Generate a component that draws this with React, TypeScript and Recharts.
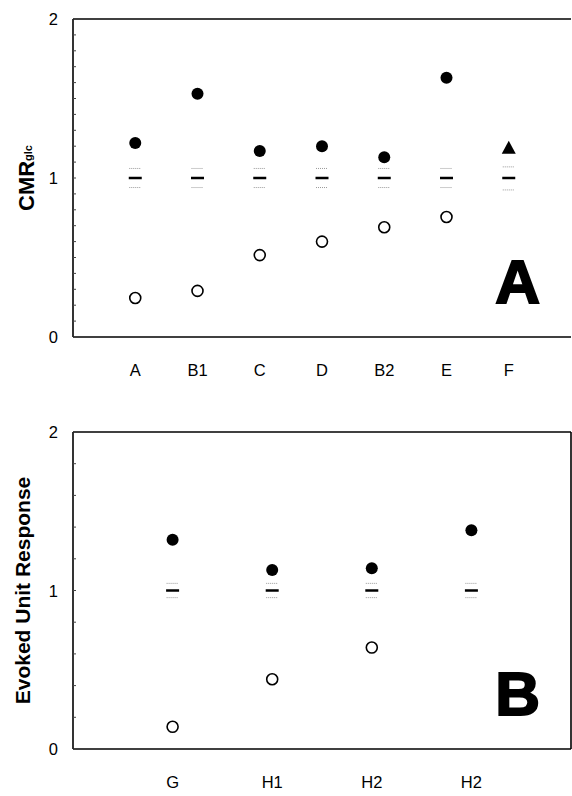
import React from 'react';
import { ScatterChart, Scatter, XAxis, YAxis, ReferenceLine } from 'recharts';

// ---- Panel A data ----
const catsA = ['A', 'B1', 'C', 'D', 'B2', 'E', 'F'];
const posA = [1, 2, 3, 4, 5, 6, 7];
const filledA = [1.22, 1.53, 1.17, 1.2, 1.13, 1.63];
const triangleA = [{ x: 7, y: 1.19 }];
const openA = [0.245, 0.29, 0.515, 0.6, 0.69, 0.755];
const meanA = [1, 1, 1, 1, 1, 1, 1];
const upperA = [1.06, 1.06, 1.06, 1.06, 1.06, 1.06, 1.07];
const lowerA = [0.94, 0.94, 0.94, 0.94, 0.94, 0.94, 0.925];
const yTicksA = [0, 0.1, 0.2, 0.3, 0.4, 0.5, 0.6, 0.7, 0.8, 0.9, 1, 1.1, 1.2, 1.3, 1.4, 1.5, 1.6, 1.7, 1.8, 1.9, 2];

// ---- Panel B data ----
const catsB = ['G', 'H1', 'H2', 'H2'];
const posB = [1, 2, 3, 4];
const filledB = [1.32, 1.13, 1.14, 1.38];
const openB = [0.14, 0.44, 0.64];
const meanB = [1, 1, 1, 1];
const upperB = [1.045, 1.045, 1.045, 1.045];
const lowerB = [0.955, 0.955, 0.955, 0.955];
const yTicksB = [0, 0.2, 0.4, 0.6, 0.8, 1, 1.2, 1.4, 1.6, 1.8, 2];

const FONT = '"Liberation Sans", Arial, Helvetica, sans-serif';

const toPts = (pos: number[], vals: number[]) => vals.map((y, i) => ({ x: pos[i], y }));

const FilledDot = (p: any) => <circle cx={p.cx} cy={p.cy} r={6} fill="#000" />;
const OpenDot = (p: any) => <circle cx={p.cx} cy={p.cy} r={5.5} fill="#fff" stroke="#000" strokeWidth={1.6} />;
const Tri = (p: any) => (
  <path d={`M${p.cx},${p.cy - 7} L${p.cx + 7},${p.cy + 6} L${p.cx - 7},${p.cy + 6} Z`} fill="#000" />
);
const MeanDash = (p: any) => (
  <line x1={p.cx - 6.5} x2={p.cx + 6.5} y1={p.cy} y2={p.cy} stroke="#000" strokeWidth={2.5} />
);
const BandDot = (p: any) => (
  <line x1={p.cx - 6} x2={p.cx + 6} y1={p.cy} y2={p.cy} stroke="#999" strokeWidth={1} strokeDasharray="1 1" />
);

const TICK_MARGIN = 15;
const makeYTick = (len: number) => (props: any) => {
  const { x, y, payload } = props;
  const v = payload.value as number;
  const ax = x + TICK_MARGIN;
  const isInt = Math.abs(v - Math.round(v)) < 1e-9;
  return (
    <g>
      <line x1={ax} x2={ax + len} y1={y} y2={y} stroke="#444" strokeWidth={1} />
      {isInt && (
        <text x={x} y={y} textAnchor="end" dominantBaseline="central" fontSize={16.5} fontFamily={FONT} fill="#000">
          {Math.round(v)}
        </text>
      )}
    </g>
  );
};

const panelLetter = (letter: string) => (props: any) => {
  const vb = props.viewBox;
  return (
    <text
      x={vb.x + vb.width - 31}
      y={vb.y - 34}
      textAnchor="end"
      fontSize={62}
      fontWeight="bold"
      fontFamily={FONT}
      fill="#000"
      stroke="#000"
      strokeWidth={2}
    >
      {letter}
    </text>
  );
};

const yTitleA = (props: any) => {
  const vb = props.viewBox;
  const cx = vb.x + 26;
  const cy = vb.y + vb.height / 2;
  return (
    <text
      x={cx}
      y={cy}
      transform={`rotate(-90, ${cx}, ${cy})`}
      textAnchor="middle"
      dominantBaseline="central"
      fontFamily={FONT}
      fontWeight="bold"
      fill="#000"
    >
      <tspan fontSize={22}>CMR</tspan>
      <tspan fontSize={11} dy={2}>glc</tspan>
    </text>
  );
};

const yTitleB = (props: any) => {
  const vb = props.viewBox;
  const cx = vb.x + 22;
  const cy = vb.y + vb.height / 2;
  return (
    <text
      x={cx}
      y={cy}
      transform={`rotate(-90, ${cx}, ${cy})`}
      textAnchor="middle"
      dominantBaseline="central"
      fontFamily={FONT}
      fontWeight="bold"
      fontSize={21}
      fill="#000"
    >
      Evoked Unit Response
    </text>
  );
};

const axisLine = { stroke: '#000', strokeWidth: 1.6 };
const xTickStyle = { fontSize: 16.5, fontFamily: FONT, fill: '#000' };

export default function App() {
  return (
    <div style={{ position: 'absolute', left: 0, top: 0, width: 572, height: 796, background: '#fff' }}>
      <ScatterChart width={572} height={396} margin={{ top: 19, right: 1, left: 0, bottom: 0 }}>
        <XAxis
          type="number"
          dataKey="x"
          domain={[0, 8]}
          ticks={posA}
          interval={0}
          tickFormatter={(v: number) => catsA[v - 1]}
          tickLine={false}
          tickSize={0}
          tickMargin={27}
          height={59}
          axisLine={axisLine}
          tick={xTickStyle}
          label={{ content: panelLetter('A') } as any}
        />
        <YAxis
          type="number"
          dataKey="y"
          domain={[0, 2]}
          ticks={yTicksA}
          interval={0}
          width={73}
          tickLine={false}
          tickSize={0}
          tickMargin={TICK_MARGIN}
          axisLine={axisLine}
          tick={makeYTick(3)}
          label={{ content: yTitleA } as any}
        />
        <ReferenceLine y={2} stroke="#000" strokeWidth={1.6} />
        <Scatter data={toPts(posA, upperA)} shape={BandDot} isAnimationActive={false} />
        <Scatter data={toPts(posA, lowerA)} shape={BandDot} isAnimationActive={false} />
        <Scatter data={toPts(posA, meanA)} shape={MeanDash} isAnimationActive={false} />
        <Scatter data={toPts(posA, filledA)} shape={FilledDot} isAnimationActive={false} />
        <Scatter data={toPts(posA, openA)} shape={OpenDot} isAnimationActive={false} />
        <Scatter data={triangleA} shape={Tri} isAnimationActive={false} />
      </ScatterChart>
      <ScatterChart width={572} height={400} margin={{ top: 36, right: 1, left: 0, bottom: 0 }}>
        <XAxis
          type="number"
          dataKey="x"
          domain={[0, 5]}
          ticks={posB}
          interval={0}
          tickFormatter={(v: number) => catsB[v - 1]}
          tickLine={false}
          tickSize={0}
          tickMargin={27}
          height={47}
          axisLine={axisLine}
          tick={xTickStyle}
          label={{ content: panelLetter('B') } as any}
        />
        <YAxis
          type="number"
          dataKey="y"
          domain={[0, 2]}
          ticks={yTicksB}
          interval={0}
          width={73}
          tickLine={false}
          tickSize={0}
          tickMargin={TICK_MARGIN}
          axisLine={axisLine}
          tick={makeYTick(3)}
          label={{ content: yTitleB } as any}
        />
        <ReferenceLine y={2} stroke="#000" strokeWidth={1.6} />
        <ReferenceLine x={5} stroke="#000" strokeWidth={1.6} />
        <Scatter data={toPts(posB, upperB)} shape={BandDot} isAnimationActive={false} />
        <Scatter data={toPts(posB, lowerB)} shape={BandDot} isAnimationActive={false} />
        <Scatter data={toPts(posB, meanB)} shape={MeanDash} isAnimationActive={false} />
        <Scatter data={toPts(posB, filledB)} shape={FilledDot} isAnimationActive={false} />
        <Scatter data={toPts(posB, openB)} shape={OpenDot} isAnimationActive={false} />
      </ScatterChart>
    </div>
  );
}
